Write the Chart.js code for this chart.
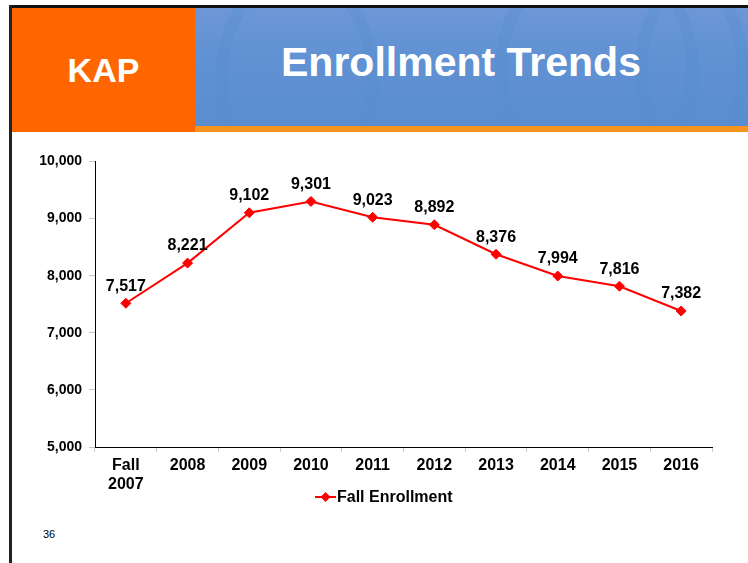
<!DOCTYPE html>
<html>
<head>
<meta charset="utf-8">
<script src="https://cdn.jsdelivr.net/npm/chart.js@4/dist/chart.umd.min.js"></script>
<style>
  html, body { margin: 0; padding: 0; background: #fff; }
  body { width: 748px; height: 563px; position: relative; overflow: hidden; font-family: Arial, "Liberation Sans", sans-serif; }
  .border-top { position: absolute; left: 9px; top: 5px; width: 739px; height: 3px; background: #111; }
  .border-left { position: absolute; left: 9px; top: 5px; width: 3px; height: 558px; background: #222; }
  .kap { position: absolute; left: 12px; top: 8px; width: 183px; height: 124px; background: #ff6600;
         color: #fff; font-weight: bold; font-size: 34px; line-height: 124px; text-align: center; }
  .banner { position: absolute; left: 195px; top: 8px; width: 553px; height: 118px;
            background: linear-gradient(180deg, #6d97d7 0%, #5f91d3 45%, #5a8dcf 100%); overflow: hidden; }
  .banner .wave { position: absolute; border-radius: 50%; border: 12px solid rgba(80, 140, 205, 0.25); }
  .banner h1 { position: absolute; left: 86px; top: 0; margin: 0; color: #fff; font-weight: bold;
               font-size: 41px; line-height: 108px; white-space: nowrap; }
  .stripe { position: absolute; left: 195px; top: 126px; width: 553px; height: 6px; background: #f7941d; }
  .page-num { position: absolute; left: 43px; top: 528px; font-size: 11px; color: #000; }
  #chart { position: absolute; left: 0; top: 0; }
</style>
</head>
<body>
<div class="border-top"></div>
<div class="border-left"></div>
<div class="kap">KAP</div>
<div class="banner">
  <div class="wave" style="left:20px;top:-40px;width:140px;height:200px;"></div>
  <div class="wave" style="left:300px;top:-60px;width:180px;height:220px;"></div>
  <div class="wave" style="left:440px;top:-30px;width:90px;height:160px;"></div>
  <h1>Enrollment Trends</h1>
</div>
<div class="stripe"></div>
<div class="page-num">36</div>
<canvas id="chart" width="748" height="563"></canvas>

<script>
// ---- data ----
const categories = [['Fall', '2007'], '2008', '2009', '2010', '2011', '2012', '2013', '2014', '2015', '2016'];
const enrollment = [7517, 8221, 9102, 9301, 9023, 8892, 8376, 7994, 7816, 7382];
const seriesLabel = 'Fall Enrollment';
const yTicks = [5000, 6000, 7000, 8000, 9000, 10000];

const RED = '#ff0000';
const fmt = v => v.toLocaleString('en-US');

// value labels above each point
const valueLabels = {
    id: 'valueLabels',
    afterDatasetsDraw(chart) {
        const ctx = chart.ctx;
        const meta = chart.getDatasetMeta(0);
        ctx.save();
        ctx.font = 'bold 16px Arial, "Liberation Sans", sans-serif';
        ctx.fillStyle = '#000';
        ctx.textAlign = 'center';
        ctx.textBaseline = 'middle';
        meta.data.forEach((pt, i) => {
            ctx.fillText(fmt(chart.data.datasets[0].data[i]), pt.x, pt.y - 17);
        });
        ctx.restore();
    }
};

// legend below the axis: line + diamond + label
const lineLegend = {
    id: 'lineLegend',
    afterDraw(chart) {
        const ctx = chart.ctx;
        const ds = chart.data.datasets[0];
        const y = 497;
        const x0 = 315;
        ctx.save();
        ctx.strokeStyle = ds.borderColor;
        ctx.lineWidth = 2;
        ctx.beginPath();
        ctx.moveTo(x0, y);
        ctx.lineTo(x0 + 21, y);
        ctx.stroke();
        ctx.fillStyle = ds.pointBackgroundColor;
        ctx.beginPath();
        ctx.moveTo(x0 + 10.5 - 5, y);
        ctx.lineTo(x0 + 10.5, y - 5);
        ctx.lineTo(x0 + 10.5 + 5, y);
        ctx.lineTo(x0 + 10.5, y + 5);
        ctx.closePath();
        ctx.fill();
        ctx.font = 'bold 16px Arial, "Liberation Sans", sans-serif';
        ctx.fillStyle = '#000';
        ctx.textAlign = 'left';
        ctx.textBaseline = 'middle';
        ctx.fillText(ds.label, x0 + 22, y + 1);
        ctx.restore();
    }
};

new Chart(document.getElementById('chart'), {
    type: 'line',
    data: {
        labels: categories,
        datasets: [{
            label: seriesLabel,
            data: enrollment,
            borderColor: RED,
            borderWidth: 2,
            pointStyle: 'rectRot',
            pointRadius: 5,
            pointBackgroundColor: RED,
            pointBorderColor: RED,
            pointBorderWidth: 1,
            tension: 0
        }]
    },
    options: {
        responsive: false,
        animation: false,
        layout: { padding: { top: 161.5, right: 36, bottom: 71, left: 0 } },
        plugins: {
            legend: { display: false },
            tooltip: { enabled: false }
        },
        scales: {
            x: {
                offset: true,
                grid: { offset: true, drawOnChartArea: false, tickLength: 5, color: '#c8c8c8' },
                border: { color: '#000', width: 1 },
                ticks: {
                    color: '#000',
                    padding: 4,
                    maxRotation: 0,
                    autoSkip: false,
                    font: { family: 'Arial, "Liberation Sans", sans-serif', size: 16, weight: 'bold', lineHeight: 1.2 }
                },
                afterFit(axis) { axis.height = 45; }
            },
            y: {
                min: yTicks[0],
                max: yTicks[yTicks.length - 1],
                afterBuildTicks(axis) { axis.ticks = yTicks.map(v => ({ value: v })); },
                grid: { drawOnChartArea: false, tickLength: 6, color: '#c8c8c8' },
                border: { color: '#000', width: 1 },
                ticks: {
                    color: '#000',
                    padding: 7,
                    callback: v => fmt(v),
                    font: { family: 'Arial, "Liberation Sans", sans-serif', size: 14, weight: 'bold' }
                },
                afterFit(axis) { axis.width = 95; }
            }
        }
    },
    plugins: [valueLabels, lineLegend]
});
</script>
</body>
</html>
